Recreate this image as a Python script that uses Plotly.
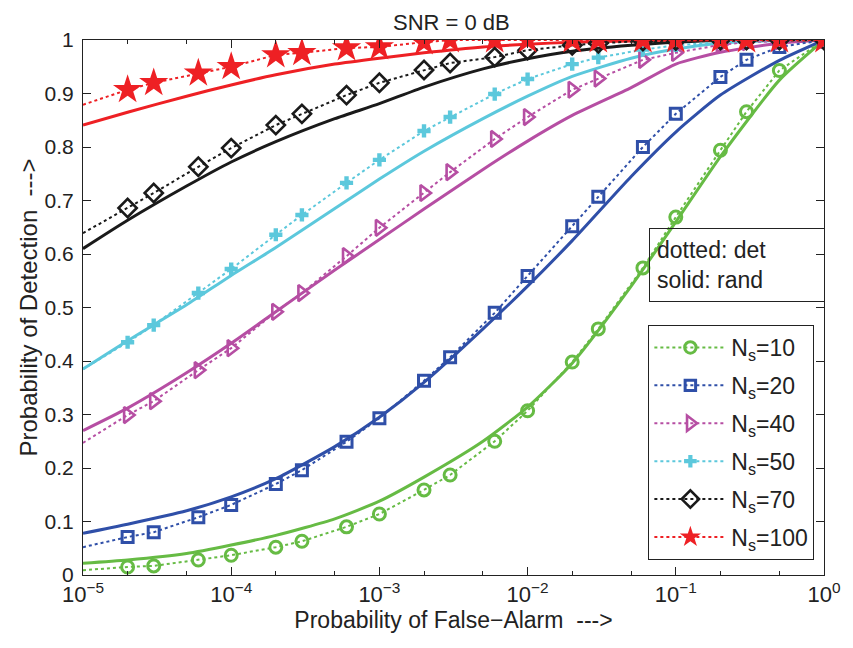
import plotly.graph_objects as go

# ---------------- data ----------------
pfa_det = [1e-5, 2e-5, 3e-5, 6e-5, 1e-4, 2e-4, 3e-4, 6e-4, 1e-3, 2e-3, 3e-3,
           6e-3, 1e-2, 2e-2, 3e-2, 6e-2, 1e-1, 2e-1, 3e-1, 5e-1, 1.0]
pfa_rand = [1e-5, 2e-5, 5e-5, 1e-4, 2e-4, 5e-4, 1e-3, 2e-3, 5e-3,
            1e-2, 2e-2, 5e-2, 1e-1, 2e-1, 5e-1, 1.0]

labels = ["N<sub>s</sub>=10", "N<sub>s</sub>=20", "N<sub>s</sub>=40",
          "N<sub>s</sub>=50", "N<sub>s</sub>=70", "N<sub>s</sub>=100"]

det_ns10 = [0.009, 0.015, 0.017, 0.028, 0.037, 0.052, 0.063, 0.090, 0.114, 0.159, 0.187,
            0.250, 0.307, 0.398, 0.460, 0.574, 0.669, 0.794, 0.866, 0.943, 1.0]
det_ns20 = [0.052, 0.071, 0.080, 0.108, 0.131, 0.170, 0.196, 0.249, 0.293, 0.363, 0.407,
            0.490, 0.559, 0.652, 0.707, 0.800, 0.862, 0.931, 0.963, 0.987, 1.0]
det_ns40 = [0.247, 0.299, 0.325, 0.383, 0.424, 0.492, 0.527, 0.596, 0.649, 0.714, 0.753,
            0.815, 0.856, 0.907, 0.928, 0.963, 0.976, 0.991, 0.996, 0.998, 1.0]
det_ns50 = [0.385, 0.435, 0.467, 0.527, 0.572, 0.636, 0.673, 0.733, 0.776, 0.830, 0.856,
            0.899, 0.927, 0.955, 0.967, 0.982, 0.990, 0.996, 0.998, 1.0, 1.0]
det_ns70 = [0.639, 0.686, 0.714, 0.763, 0.798, 0.841, 0.862, 0.897, 0.920, 0.944, 0.957,
            0.968, 0.981, 0.990, 0.994, 0.998, 0.999, 1.0, 1.0, 1.0, 1.0]
det_ns100 = [0.879, 0.907, 0.920, 0.938, 0.950, 0.972, 0.976, 0.985, 0.987, 0.996, 1.0,
             1.0, 1.0, 1.0, 1.0, 1.0, 1.0, 1.0, 1.0, 1.0, 1.0]

rand_ns10 = [0.022, 0.028, 0.040, 0.056, 0.074, 0.105, 0.138, 0.183, 0.250,
             0.314, 0.396, 0.540, 0.660, 0.782, 0.925, 1.0]
rand_ns20 = [0.078, 0.095, 0.120, 0.146, 0.180, 0.240, 0.295, 0.360, 0.460,
             0.540, 0.625, 0.745, 0.828, 0.897, 0.962, 1.0]
rand_ns40 = [0.270, 0.312, 0.378, 0.433, 0.492, 0.570, 0.627, 0.684, 0.758,
             0.811, 0.859, 0.911, 0.955, 0.977, 0.994, 1.0]
rand_ns50 = [0.385, 0.438, 0.505, 0.560, 0.612, 0.685, 0.740, 0.792, 0.853,
             0.895, 0.932, 0.966, 0.983, 0.994, 0.999, 1.0]
rand_ns70 = [0.610, 0.663, 0.727, 0.772, 0.810, 0.853, 0.881, 0.912, 0.946,
             0.965, 0.979, 0.990, 0.996, 0.999, 1.0, 1.0]
rand_ns100 = [0.841, 0.865, 0.895, 0.916, 0.935, 0.955, 0.966, 0.976, 0.987,
              0.992, 0.996, 0.998, 1.0, 1.0, 1.0, 1.0]

x_tickvals = [1e-5, 1e-4, 1e-3, 1e-2, 1e-1, 1.0]
x_ticktext = ["10<sup>\u22125</sup>", "10<sup>\u22124</sup>", "10<sup>\u22123</sup>",
              "10<sup>\u22122</sup>", "10<sup>\u22121</sup>", "10<sup>0</sup>"]
y_tickvals = [0, 0.1, 0.2, 0.3, 0.4, 0.5, 0.6, 0.7, 0.8, 0.9, 1.0]

# ---------------- styles ----------------
colors = ["#66bb44", "#2f4fa8", "#b64ea3", "#5cc8dc", "#1a1a1a", "#ee2024"]
symbols = ["circle-open", "square-open", "triangle-right-open", "cross", "diamond-open", "star"]
msizes = [12, 11, 14, 11, 14, 22]
mlw = [3, 3, 2.6, 0, 2.6, 0]

dets = [det_ns10, det_ns20, det_ns40, det_ns50, det_ns70, det_ns100]
rands = [rand_ns10, rand_ns20, rand_ns40, rand_ns50, rand_ns70, rand_ns100]

fig = go.Figure()
for i in range(6):
    fig.add_trace(go.Scatter(
        x=pfa_rand, y=rands[i], mode="lines",
        line=dict(color=colors[i], width=3, shape="spline", smoothing=0.6),
        showlegend=False, hoverinfo="skip"))

for i in range(6):
    sizes = [0] + [msizes[i]] * (len(pfa_det) - 1)
    fig.add_trace(go.Scatter(
        x=pfa_det, y=dets[i], mode="lines+markers", name=labels[i], legendgroup=f"g{i}",
        line=dict(color=colors[i], width=2, dash="dot"),
        marker=dict(symbol=symbols[i], size=sizes, color=colors[i], opacity=1,
                    line=dict(color=colors[i], width=mlw[i]))))

font_family = "Liberation Sans, Arial, sans-serif"
fig.update_layout(
    width=853, height=648,
    margin=dict(l=83, r=18, t=40, b=73),
    paper_bgcolor="white", plot_bgcolor="white",
    font=dict(family=font_family, size=22, color="#222222"),
    showlegend=True,
    legend=dict(x=0.987, xanchor="right", y=0.028, yanchor="bottom",
                bgcolor="white", bordercolor="#222222", borderwidth=1,
                font=dict(size=23), tracegroupgap=5, itemwidth=72),
    annotations=[
        dict(text="SNR = 0 dB", xref="paper", yref="paper", x=0.497, xanchor="center",
             y=1.0, yanchor="bottom", yshift=3, showarrow=False,
             font=dict(size=22, color="#222222")),
        dict(text="dotted: det<br>solid: rand", xref="paper", yref="paper",
             x=0.764, xanchor="left", y=0.649, yanchor="top",
             showarrow=False, align="left", bordercolor="#222222", borderwidth=1,
             width=160, height=58, font=dict(size=23), borderpad=7)],
)
fig.update_xaxes(type="log", range=[-5, 0], tickvals=x_tickvals, ticktext=x_ticktext,
                 ticks="inside", ticklen=8, tickcolor="#222222", showline=True, linecolor="#222222",
                 mirror="ticks", showgrid=False, zeroline=False,
                 minor=dict(ticks="inside", ticklen=4, tickcolor="#222222", showgrid=False),
                 tickfont=dict(size=22),
                 title=dict(text="Probability of False\u2212Alarm  --->", standoff=0,
                            font=dict(size=23)))
fig.update_yaxes(range=[0, 1], tickvals=y_tickvals, ticks="inside", ticklen=8, tickcolor="#222222",
                 showline=True, linecolor="#222222", mirror="ticks", showgrid=False, zeroline=False,
                 tickfont=dict(size=21), ticklabelstandoff=4,
                 title=dict(text="Probability of Detection  --->", standoff=0,
                            font=dict(size=24)))

fig.write_html("out.html")
